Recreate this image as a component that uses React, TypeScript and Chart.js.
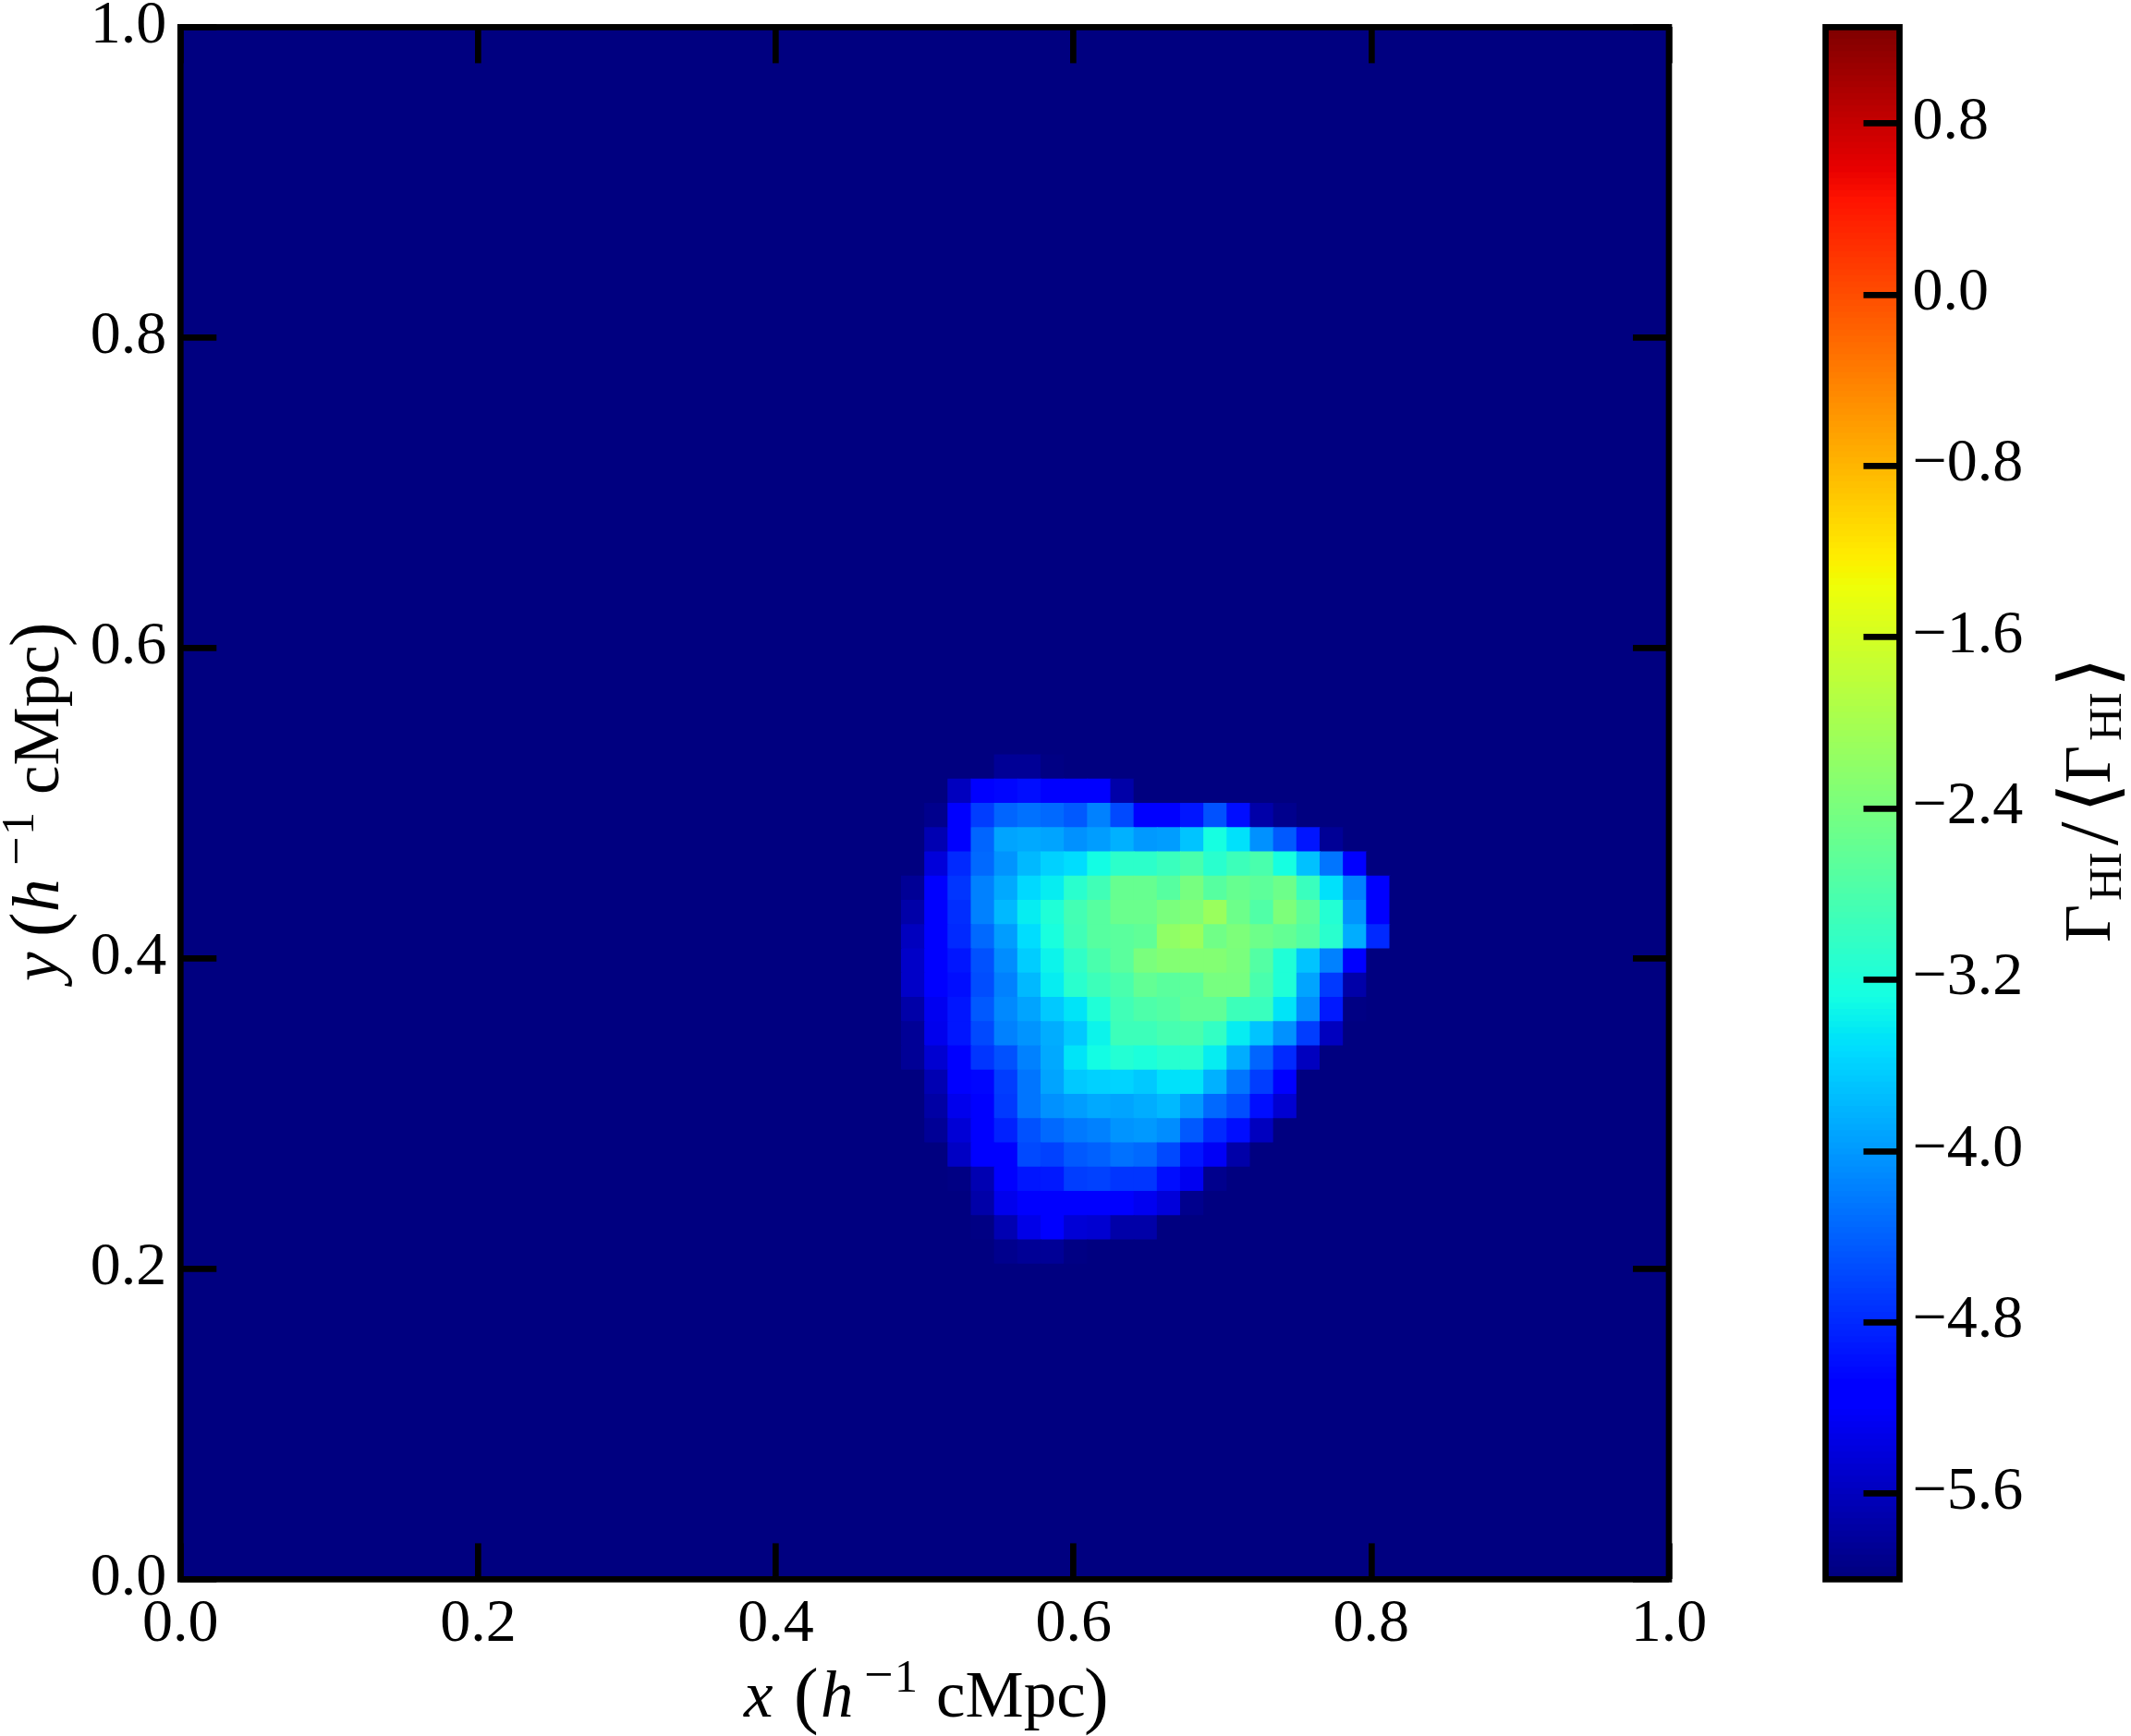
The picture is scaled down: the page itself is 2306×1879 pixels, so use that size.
import React, { useEffect, useRef } from "react";
import { Chart, registerables } from "chart.js";

Chart.register(...registerables);

const gridSize = 64;
const colorMin = -6;
const colorMax = 1.25;
const colorLevels = 256;
const axisTicks = [0, 0.2, 0.4, 0.6, 0.8, 1.0];
const colorbarTicks = [-5.6, -4.8, -4.0, -3.2, -2.4, -1.6, -0.8, 0.0, 0.8];

// Heat field: rows counted from the bottom; anything not listed is at colorMin.
const blobTopRow = 33;
const blobFirstCols = [35, 33, 32, 32, 32, 31, 31, 31, 31, 31, 31, 31, 31, 32, 32, 32, 33, 33, 34, 34, 35];
const blobValues = [
  [-5.85, -5.85, -5.97],
  [-5.6, -5.15, -5.05, -5.0, -5.1, -5.15, -5.15, -5.72],
  [-5.9, -5.15, -4.65, -4.37, -4.3, -4.33, -4.47, -4.18, -4.58, -5.15, -5.15, -4.95, -4.5, -5.0, -5.72, -5.9],
  [-5.67, -5.15, -4.37, -3.93, -3.9, -3.93, -4.07, -3.97, -3.82, -4.0, -3.97, -3.7, -3.28, -3.5, -4.07, -4.47, -4.95, -5.85],
  [-5.42, -4.8, -4.33, -4.03, -3.77, -3.6, -3.53, -3.3, -3.07, -3.07, -2.96, -2.8, -3.1, -2.92, -2.8, -3.28, -3.73, -4.27, -5.15],
  [-5.85, -5.15, -4.72, -4.18, -3.9, -3.56, -3.42, -3.1, -2.9, -2.55, -2.57, -2.7, -2.42, -2.7, -2.57, -2.65, -2.5, -2.96, -3.5, -4.18, -5.15],
  [-5.72, -5.15, -4.77, -4.18, -3.77, -3.42, -3.17, -2.87, -2.7, -2.53, -2.53, -2.38, -2.33, -2.12, -2.5, -2.77, -2.35, -2.63, -3.15, -4.03, -5.15],
  [-5.6, -5.15, -4.8, -4.33, -3.97, -3.53, -3.25, -2.9, -2.7, -2.67, -2.62, -2.18, -2.1, -2.46, -2.35, -2.5, -2.6, -2.73, -3.1, -3.85, -4.8],
  [-5.53, -5.15, -4.95, -4.5, -4.1, -3.64, -3.35, -3.05, -2.8, -2.68, -2.38, -2.3, -2.3, -2.3, -2.38, -2.73, -3.17, -3.7, -4.18, -5.15],
  [-5.53, -5.15, -5.0, -4.55, -4.18, -3.77, -3.42, -3.1, -2.92, -2.8, -2.6, -2.68, -2.63, -2.42, -2.42, -2.82, -3.17, -3.93, -4.68, -5.72],
  [-5.72, -5.28, -4.95, -4.45, -4.13, -3.93, -3.67, -3.46, -3.17, -2.9, -2.78, -2.73, -2.62, -2.62, -2.92, -2.96, -3.46, -4.1, -4.92, -5.97],
  [-5.85, -5.32, -4.95, -4.58, -4.18, -4.03, -3.85, -3.67, -3.35, -2.92, -2.92, -2.83, -2.8, -3.0, -3.4, -3.7, -4.07, -4.65, -5.6],
  [-5.85, -5.48, -5.15, -4.72, -4.5, -4.18, -3.9, -3.46, -3.3, -3.15, -3.22, -3.13, -3.1, -3.4, -3.85, -4.37, -4.8, -5.6],
  [-5.67, -5.15, -5.05, -4.65, -4.25, -3.93, -3.67, -3.6, -3.58, -3.67, -3.5, -3.46, -3.82, -4.27, -4.65, -5.15],
  [-5.75, -5.3, -5.15, -4.68, -4.25, -4.07, -3.97, -3.9, -3.93, -3.85, -3.77, -4.0, -4.33, -4.55, -5.0, -5.48],
  [-5.85, -5.45, -5.15, -4.85, -4.5, -4.33, -4.22, -4.18, -4.03, -4.0, -4.1, -4.45, -4.8, -5.0, -5.6],
  [-5.57, -5.2, -5.1, -4.58, -4.62, -4.47, -4.4, -4.28, -4.33, -4.58, -4.95, -5.25, -5.72],
  [-5.97, -5.67, -5.2, -4.95, -4.92, -4.65, -4.62, -4.72, -4.72, -5.0, -5.28, -5.9],
  [-5.72, -5.3, -5.15, -5.15, -5.15, -5.15, -5.15, -5.28, -5.42, -5.9],
  [-5.95, -5.67, -5.33, -5.2, -5.45, -5.48, -5.72, -5.72],
  [-5.9, -5.85, -5.85, -5.97],
];

const xLabelRuns = [
  { text: "x", at: 0, italic: true },
  { text: "(", at: 54, size: 80, rise: -3 },
  { text: "h", at: 83, italic: true },
  { text: "\u2212", at: 130, size: 56, rise: 27 },
  { text: "1", at: 163, size: 50, rise: 27 },
  { text: "cMpc", at: 208 },
  { text: ")", at: 368, size: 80, rise: -3 },
];
const yLabelRuns = [
  { text: "y", at: 0, italic: true },
  { text: "(", at: 48, size: 80, rise: -3 },
  { text: "h", at: 75, italic: true },
  { text: "\u2212", at: 125, size: 56, rise: 27 },
  { text: "1", at: 158, size: 50, rise: 27 },
  { text: "cMpc", at: 202 },
  { text: ")", at: 362, size: 80, rise: -3 },
];
const colorLabelRuns = [
  { text: "\u0393", at: 0 },
  { text: "HI", at: 45, size: 50, rise: -12 },
  { text: "/", at: 105, size: 92, rise: -8 },
  { text: "\u27E8", at: 140, size: 84, rise: -5 },
  { text: "\u0393", at: 172 },
  { text: "HI", at: 218, size: 50, rise: -12 },
  { text: "\u27E9", at: 276, size: 84, rise: -5 },
];

const serif = '"Liberation Serif", "DejaVu Serif", serif';
const tickFont = { family: serif, size: 66 };
const lineW = 6.7;
const tickLen = 39;

function seg(x: number, pts: number[][]) {
  for (let i = 1; i < pts.length; i++) {
    if (x <= pts[i][0]) {
      const [x0, y0] = pts[i - 1];
      const [x1, y1] = pts[i];
      return y0 + ((y1 - y0) * (x - x0)) / (x1 - x0);
    }
  }
  return pts[pts.length - 1][1];
}
function jet(value: number) {
  const t = Math.min(1, Math.max(0, (value - colorMin) / (colorMax - colorMin)));
  const x = Math.min(colorLevels - 1, Math.floor(t * colorLevels)) / (colorLevels - 1);
  const r = seg(x, [[0, 0], [0.35, 0], [0.66, 1], [0.89, 1], [1, 0.5]]);
  const g = seg(x, [[0, 0], [0.125, 0], [0.375, 1], [0.64, 1], [0.91, 0], [1, 0]]);
  const b = seg(x, [[0, 0.5], [0.11, 1], [0.34, 1], [0.65, 0], [1, 0]]);
  return `rgb(${Math.round(r * 255)},${Math.round(g * 255)},${Math.round(b * 255)})`;
}

function cellValue(row: number, col: number) {
  const k = blobTopRow - row;
  if (k < 0 || k >= blobValues.length) return colorMin;
  const v = blobValues[k][col - blobFirstCols[k]];
  return v === undefined ? colorMin : v;
}

function drawRuns(ctx: CanvasRenderingContext2D, x: number, y: number, rotated: boolean, runs: any[]) {
  ctx.save();
  ctx.translate(x, y);
  if (rotated) ctx.rotate(-Math.PI / 2);
  ctx.fillStyle = "#000";
  ctx.textAlign = "left";
  ctx.textBaseline = "alphabetic";
  for (const r of runs) {
    ctx.font = `${r.italic ? "italic " : ""}${r.size || 71}px ${serif}`;
    ctx.fillText(r.text, r.at, -(r.rise || 0));
  }
  ctx.restore();
}

const framePlugin = {
  id: "frame",
  beforeDatasetsDraw(chart: any) {
    const { ctx, chartArea: a } = chart;
    ctx.save();
    ctx.fillStyle = jet(colorMin);
    ctx.fillRect(a.left, a.top, a.right - a.left, a.bottom - a.top);
    ctx.restore();
  },
  afterDraw(chart: any) {
    const { ctx, chartArea: a } = chart;
    ctx.save();
    ctx.strokeStyle = "#000";
    ctx.lineWidth = lineW;
    ctx.lineJoin = "miter";
    ctx.strokeRect(a.left, a.top, a.right - a.left, a.bottom - a.top);
    ctx.restore();
    const labels = chart.options.plugins.frame?.labels || [];
    for (const l of labels) drawRuns(ctx, l.x, l.y, l.rotated, l.runs);
  },
};

const tickGrid = (len: number) => ({
  drawOnChartArea: false,
  drawTicks: true,
  tickLength: -len,
  lineWidth: lineW,
  color: "#000",
  z: 1,
  offset: false,
});
const fmt = (v: any) => Number(v).toFixed(1).replace("-", "\u2212");

// Pin an axis to an exact thickness and drop its automatic label padding.
const fitAxis = (key: "width" | "height", size: number) => (s: any) => {
  s[key] = size;
  s.paddingTop = 0;
  s.paddingBottom = 0;
  s.paddingLeft = 0;
  s.paddingRight = 0;
};

export default function App() {
  const mainRef = useRef<HTMLCanvasElement>(null);
  const barRef = useRef<HTMLCanvasElement>(null);

  useEffect(() => {
    document.body.style.margin = "0";
    document.body.style.background = "#fff";

    const labels = Array.from({ length: gridSize }, (_, i) => String(i));
    const datasets = Array.from({ length: gridSize }, (_, row) => ({
      label: `row ${row}`,
      data: labels.map(() => [row / gridSize, (row + 1) / gridSize]),
      backgroundColor: labels.map((_, col) => jet(cellValue(row, col))),
      borderWidth: 0,
      inflateAmount: 0.5,
      grouped: false,
      barPercentage: 1,
      categoryPercentage: 1,
    }));

    const main = new Chart(mainRef.current!, {
      type: "bar",
      data: { labels, datasets },
      plugins: [framePlugin],
      options: {
        responsive: false,
        animation: false,
        devicePixelRatio: 1,
        events: [],
        layout: { autoPadding: false, padding: { top: 29.4, right: 1900 - 1806, left: 0, bottom: 0 } },
        plugins: {
          legend: { display: false },
          tooltip: { enabled: false },
          frame: {
            labels: [
              { x: 805, y: 1858, rotated: false, runs: xLabelRuns },
              { x: 63, y: 1062, rotated: true, runs: yLabelRuns },
            ],
          },
        },
        scales: {
          x: { type: "category", display: false },
          xBottom: {
            type: "linear",
            axis: "x",
            position: "bottom",
            min: 0,
            max: 1,
            offset: false,
            afterFit: fitAxis("height", 1879 - 1709.4),
            afterBuildTicks: (s: any) => { s.ticks = axisTicks.map((value) => ({ value })); },
            grid: tickGrid(tickLen),
            border: { display: false },
            ticks: { font: tickFont, color: "#000", padding: tickLen + 10, maxRotation: 0, autoSkip: false, callback: fmt },
          },
          xTop: {
            type: "linear",
            axis: "x",
            position: "top",
            min: 0,
            max: 1,
            offset: false,
            afterFit: fitAxis("height", 0),
            afterBuildTicks: (s: any) => { s.ticks = axisTicks.map((value) => ({ value })); },
            grid: tickGrid(tickLen),
            border: { display: false },
            ticks: { display: false, autoSkip: false },
          },
          y: {
            type: "linear",
            position: "left",
            min: 0,
            max: 1,
            afterFit: fitAxis("width", 195.3),
            afterBuildTicks: (s: any) => { s.ticks = axisTicks.map((value) => ({ value })); },
            grid: tickGrid(tickLen),
            border: { display: false },
            ticks: { font: tickFont, color: "#000", padding: tickLen + 15, labelOffset: -1, autoSkip: false, callback: fmt },
          },
          yRight: {
            type: "linear",
            axis: "y",
            position: "right",
            min: 0,
            max: 1,
            afterFit: fitAxis("width", 0),
            afterBuildTicks: (s: any) => { s.ticks = axisTicks.map((value) => ({ value })); },
            grid: tickGrid(tickLen),
            border: { display: false },
            ticks: { display: false, autoSkip: false },
          },
        },
      } as any,
    });

    const step = (colorMax - colorMin) / colorLevels;
    const barDatasets = Array.from({ length: colorLevels }, (_, i) => {
      const lo = colorMin + i * step;
      return {
        label: `level ${i}`,
        data: [[lo, lo + step]],
        backgroundColor: jet(lo + step / 2),
        borderWidth: 0,
        inflateAmount: 0.5,
        grouped: false,
        barPercentage: 1,
        categoryPercentage: 1,
      };
    });

    const bar = new Chart(barRef.current!, {
      type: "bar",
      data: { labels: ["\u0393"], datasets: barDatasets },
      plugins: [framePlugin],
      options: {
        responsive: false,
        animation: false,
        devicePixelRatio: 1,
        events: [],
        layout: { autoPadding: false, padding: { top: 29.4, bottom: 1879 - 1709.4, left: 1975.5 - 1900, right: 0 } },
        plugins: {
          legend: { display: false },
          tooltip: { enabled: false },
          frame: { labels: [{ x: 2283 - 1900, y: 1020, rotated: true, runs: colorLabelRuns }] },
        },
        scales: {
          x: { type: "category", display: false },
          y: {
            type: "linear",
            position: "right",
            min: colorMin,
            max: colorMax,
            afterFit: fitAxis("width", 2306 - 2055.5),
            afterBuildTicks: (s: any) => { s.ticks = colorbarTicks.map((value) => ({ value })); },
            grid: tickGrid(tickLen),
            border: { display: false },
            ticks: { font: tickFont, color: "#000", padding: tickLen + 14, labelOffset: -1.5, autoSkip: false, callback: fmt },
          },
        },
      } as any,
    });

    return () => {
      main.destroy();
      bar.destroy();
    };
  }, []);

  return (
    <div style={{ position: "absolute", left: 0, top: 0, width: 2306, height: 1879, overflow: "hidden", background: "#fff" }}>
      <canvas ref={mainRef} width={1900} height={1879} style={{ position: "absolute", left: 0, top: 0, display: "block" }} />
      <canvas ref={barRef} width={406} height={1879} style={{ position: "absolute", left: 1900, top: 0, display: "block" }} />
    </div>
  );
}
